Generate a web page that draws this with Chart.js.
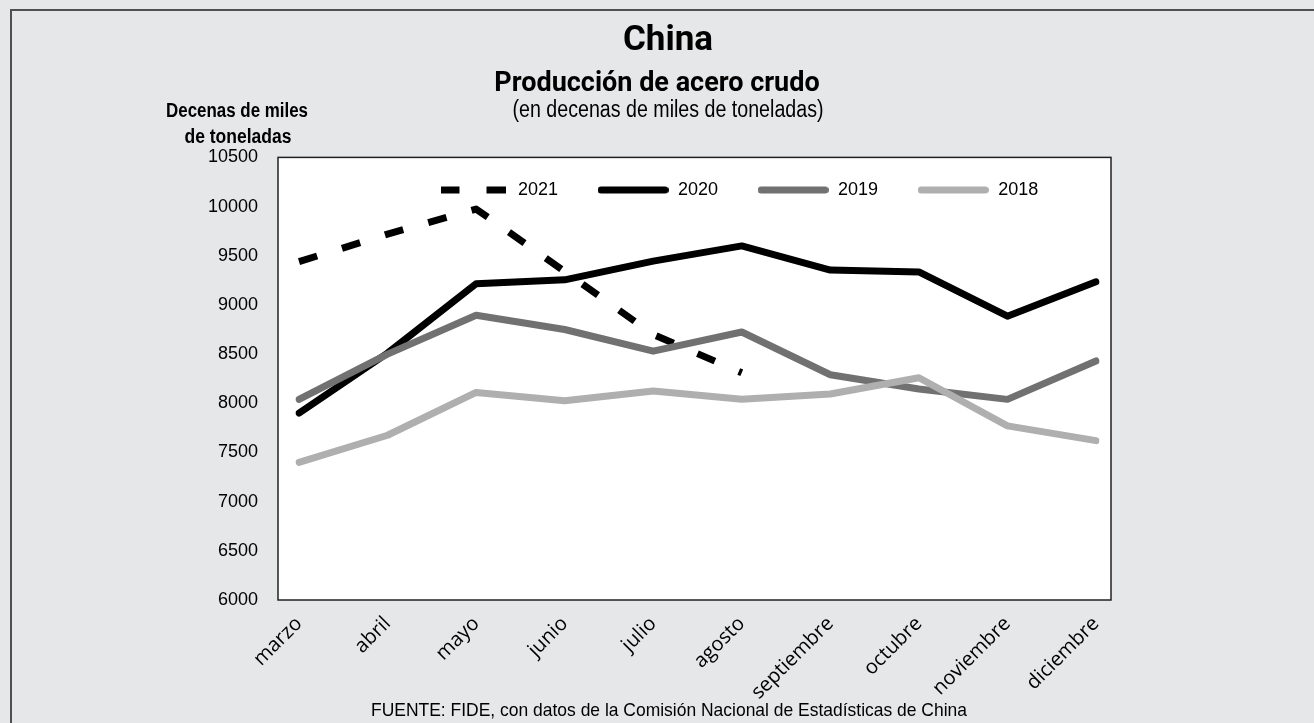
<!DOCTYPE html>
<html lang="es">
<head>
<meta charset="utf-8">
<title>China - Producción de acero crudo</title>
<script src="https://cdn.jsdelivr.net/npm/chart.js@4.4.1/dist/chart.umd.min.js"></script>
<style>
  html, body { margin: 0; padding: 0; background: #e6e7e8; overflow: hidden; }
  #wrap { position: relative; width: 1314px; height: 723px; }
  #frame { position: absolute; left: 10px; top: 9px; right: -10px; bottom: -10px;
           border-left: 2px solid #505050; border-top: 2px solid #505050; }
  #c { position: absolute; left: 0; top: 0; }
</style>
</head>
<body>
<div id="wrap">
  <div id="frame"></div>
  <canvas id="c" width="1314" height="723"></canvas>
</div>
<script>
// data (decenas de miles de toneladas)
const months = ['marzo', 'abril', 'mayo', 'junio', 'julio', 'agosto',
  'septiembre', 'octubre', 'noviembre', 'diciembre'];
const prod2021 = [9440, 9720, 9975, 9340, 8700, 8310];
const prod2020 = [7900, 8510, 9215, 9255, 9445, 9600, 9355, 9335, 8885, 9235];
const prod2019 = [8040, 8500, 8895, 8750, 8530, 8725, 8290, 8145, 8040, 8430];
const prod2018 = [7400, 7675, 8110, 8025, 8125, 8040, 8095, 8260, 7770, 7620];
const yMin = 6000, yMax = 10500, yStep = 500;

const ARIAL = "'Liberation Sans', Arial, sans-serif";

// no narrow Arial installed, so squeeze Liberation Sans to the width of the original text
function narrowText(ctx, text, x, y, font, width) {
  ctx.font = font;
  const sx = width / ctx.measureText(text).width;
  ctx.save();
  ctx.translate(x, y);
  ctx.scale(sx, 1);
  ctx.textAlign = 'center';
  ctx.textBaseline = 'alphabetic';
  ctx.fillText(text, 0, 0);
  ctx.restore();
}

// little line samples for the legend (dashes and round caps like the plot lines)
function swatch(color, dash, cap, len) {
  const c = document.createElement('canvas');
  c.width = len; c.height = 10;
  const g = c.getContext('2d');
  const inset = cap === 'round' ? 3.5 : 0;
  g.strokeStyle = color;
  g.lineWidth = 7;
  g.lineCap = cap;
  g.setLineDash(dash);
  g.beginPath();
  g.moveTo(inset, 5);
  g.lineTo(len - inset, 5);
  g.stroke();
  return c;
}
const swatches = [
  swatch('#000000', [19, 27], 'butt', 65),
  swatch('#000000', [], 'round', 71),
  swatch('#717171', [], 'round', 71),
  swatch('#afafaf', [], 'round', 71)
];

const decor = {
  id: 'decor',
  beforeLayout(chart) {
    // legend sits inside the plot in the original: take it out of the layout
    const lg = chart.legend;
    if (lg && !lg._noSpace) {
      const fit = lg.fit;
      lg.fit = function () { fit.call(this); this.height = 0; };
      lg._noSpace = true;
    }
  },
  afterLayout(chart) {
    const lg = chart.legend;
    if (lg) {
      lg.left = 398; lg.right = 1250; lg.width = 852;
      lg.top = 142; lg.bottom = 242; lg.height = 100;
    }
    const tb = chart.titleBlock;
    if (tb) { tb.left += 11; tb.right += 11; }
  },
  beforeDraw(chart) {
    const {ctx, chartArea: a} = chart;
    ctx.save();
    ctx.fillStyle = '#ffffff';
    ctx.fillRect(a.left - 21, a.top, a.right - a.left + 36, a.bottom - a.top);
    ctx.strokeStyle = '#222222';
    ctx.lineWidth = 1.5;
    ctx.strokeRect(a.left - 21, a.top, a.right - a.left + 36, a.bottom - a.top);
    ctx.restore();
  },
  afterDraw(chart) {
    const {ctx} = chart;
    ctx.save();
    ctx.fillStyle = '#000';
    narrowText(ctx, '(en decenas de miles de toneladas)', 668, 117, '23px ' + ARIAL, 311);
    narrowText(ctx, 'Decenas de miles', 237, 117, 'bold 20px ' + ARIAL, 142);
    narrowText(ctx, 'de toneladas', 238, 143, 'bold 20px ' + ARIAL, 107);
    narrowText(ctx, 'FUENTE: FIDE, con datos de la Comisión Nacional de Estadísticas de China',
      669, 716, '19px ' + ARIAL, 596);
    ctx.restore();
  }
};

new Chart(document.getElementById('c'), {
  type: 'line',
  data: {
    labels: months,
    datasets: [
      { label: '2021', data: prod2021, borderColor: '#000000', backgroundColor: '#000000',
        borderWidth: 7, borderDash: [19, 26], borderCapStyle: 'butt', order: 4 },
      { label: '2020', data: prod2020, borderColor: '#000000', backgroundColor: '#000000',
        borderWidth: 7, borderCapStyle: 'round', order: 3 },
      { label: '2019', data: prod2019, borderColor: '#717171', backgroundColor: '#717171',
        borderWidth: 7, borderCapStyle: 'round', order: 2 },
      { label: '2018', data: prod2018, borderColor: '#afafaf', backgroundColor: '#afafaf',
        borderWidth: 7, borderCapStyle: 'round', order: 1 }
    ]
  },
  options: {
    responsive: false,
    animation: false,
    events: [],
    layout: { padding: 0 },
    elements: {
      point: { radius: 0 },
      line: { tension: 0, borderJoinStyle: 'round' }
    },
    plugins: {
      title: {
        display: true,
        text: 'China',
        color: '#000',
        font: { family: 'Roboto', size: 35, weight: 'bold' },
        padding: { top: 20, bottom: 0 }
      },
      subtitle: {
        display: true,
        text: 'Producción de acero crudo',
        color: '#000',
        font: { family: 'Roboto', size: 27, weight: 'bold' },
        padding: { top: 6, bottom: 57 }
      },
      legend: {
        position: 'top',
        align: 'start',
        labels: {
          usePointStyle: true,
          pointStyleWidth: 72,
          padding: 39,
          color: '#000',
          font: { family: ARIAL, size: 18 },
          sort: (a, b) => a.datasetIndex - b.datasetIndex,
          generateLabels(chart) {
            const items = Chart.defaults.plugins.legend.labels.generateLabels(chart);
            items.forEach(it => { it.pointStyle = swatches[it.datasetIndex]; });
            return items;
          }
        }
      },
      tooltip: { enabled: false }
    },
    scales: {
      x: {
        offset: false,
        grid: { display: false },
        border: { display: false },
        ticks: {
          color: '#000',
          font: { family: "'Open Sans', 'Noto Sans', sans-serif", size: 20 },
          minRotation: 45,
          maxRotation: 45,
          autoSkip: false,
          padding: 4
        },
        afterFit(scale) { scale.height = 123; }
      },
      y: {
        min: yMin,
        max: yMax,
        grid: { display: false, drawTicks: false },
        border: { display: false },
        ticks: {
          stepSize: yStep,
          color: '#000',
          font: { family: ARIAL, size: 18 },
          padding: 41,
          callback: v => String(v)
        },
        afterFit(scale) { scale.width = 299; }
      },
      // empty right-hand axis that only keeps the space right of the plot
      yRight: {
        type: 'linear',
        position: 'right',
        grid: { display: false },
        border: { display: false },
        ticks: { display: false },
        afterFit(scale) { scale.width = 218; }
      }
    }
  },
  plugins: [decor]
});
</script>
</body>
</html>
